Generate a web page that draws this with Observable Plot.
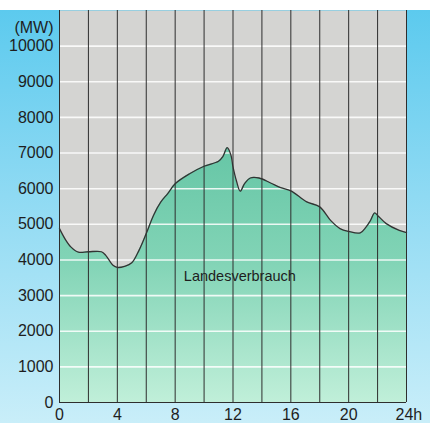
<!DOCTYPE html>
<html>
<head>
<meta charset="utf-8">
<script src="https://cdn.jsdelivr.net/npm/d3@7"></script>
<script src="https://cdn.jsdelivr.net/npm/@observablehq/plot@0.6"></script>
<style>
  html, body { margin: 0; padding: 0; background: #ffffff; }
  #chart { padding-top: 10px; width: 430px; }
  svg { display: block; }
</style>
</head>
<body>
<div id="chart"></div>
<script>
// Hour of day
const hours = [0, 0.4, 0.8, 1.3, 2, 2.9, 3.2, 3.7, 4, 4.5, 5, 5.5, 6, 6.5, 7, 7.5, 8, 9, 10, 11, 11.3, 11.6, 11.85, 12, 12.25, 12.5, 12.8, 13.2, 13.8, 14.6, 15.3, 16, 17.1, 18, 18.75, 19.4, 20, 20.8, 21.2, 21.5, 21.8, 22, 22.6, 23.5, 24];
// Load (MW)
const mw = [4880, 4580, 4360, 4220, 4230, 4230, 4130, 3850, 3790, 3820, 3920, 4270, 4740, 5250, 5620, 5870, 6140, 6420, 6630, 6770, 6900, 7150, 6950, 6610, 6200, 5930, 6140, 6300, 6300, 6160, 6030, 5940, 5630, 5490, 5110, 4880, 4800, 4760, 4920, 5100, 5320, 5250, 5020, 4830, 4770];

const yTicks = [0, 1000, 2000, 3000, 4000, 5000, 6000, 7000, 8000, 9000, 10000];
const xTicks = [0, 4, 8, 12, 16, 20];
const xGrid = [0, 2, 4, 6, 8, 10, 12, 14, 16, 18, 20, 22, 24];
const unitLabel = "(MW)";
const lastTickLabel = "24h";
const seriesLabel = "Landesverbrauch";

const data = hours.map((h, i) => ({hour: h, mw: mw[i]}));

const plot = Plot.plot({
  width: 430,
  height: 413,
  marginTop: 0,
  marginLeft: 59,
  marginRight: 24,
  marginBottom: 21,
  style: {
    fontFamily: "'Liberation Sans', Arial, sans-serif",
    fontSize: "16px",
    color: "#1e1e1e",
    background: "linear-gradient(180deg, #5ccaee 0%, #8fdaf3 45%, #c9eef9 100%)"
  },
  x: {domain: [0, 24], ticks: xTicks, tickSize: 0, tickPadding: 6, label: null},
  y: {domain: [0, 11000], ticks: yTicks, tickSize: 0, tickPadding: 6, label: null, tickFormat: d => String(d)},
  marks: [
    Plot.frame({fill: "#d4d4d2", stroke: null}),
    Plot.areaY(data, {x: "hour", y: "mw", fill: "url(#greenGrad)", curve: "catmull-rom"}),
    Plot.ruleY(yTicks.filter(d => d > 0), {stroke: "#ffffff", strokeWidth: 1.6, strokeOpacity: 0.85}),
    Plot.ruleX(xGrid, {stroke: "#2e2e2e", strokeWidth: 1}),
    Plot.line(data, {x: "hour", y: "mw", stroke: "#333333", strokeWidth: 1.3, curve: "catmull-rom"}),
    Plot.ruleY([0], {stroke: "#2e2e2e", strokeWidth: 1.2}),
    Plot.text([unitLabel], {x: 0, y: 10500, text: d => d, textAnchor: "end", dx: -6, fill: "#1e1e1e", fontSize: 16}),
    Plot.text([lastTickLabel], {x: 24, y: 0, text: d => d, textAnchor: "start", dx: -11, dy: 12, fill: "#1e1e1e", fontSize: 16}),
    Plot.text([seriesLabel], {x: 8.6, y: 3540, text: d => d, textAnchor: "start", fill: "#1e1e1e", fontSize: 14.5})
  ]
});

const svg = d3.select(plot);
// make sure axis tick labels use the intended size
svg.selectAll("g[aria-label='x-axis tick label'] text, g[aria-label='y-axis tick label'] text, g[aria-label='x-axis'] text, g[aria-label='y-axis'] text")
  .style("font-size", "16px");
const defs = svg.insert("defs", ":first-child");
const g = defs.append("linearGradient").attr("id", "greenGrad")
  .attr("x1", 0).attr("y1", 0).attr("x2", 0).attr("y2", 1);
g.append("stop").attr("offset", "0%").attr("stop-color", "#66c6a6");
g.append("stop").attr("offset", "45%").attr("stop-color", "#82d4b6");
g.append("stop").attr("offset", "100%").attr("stop-color", "#c0efd9");

document.getElementById("chart").appendChild(plot);
</script>
</body>
</html>
